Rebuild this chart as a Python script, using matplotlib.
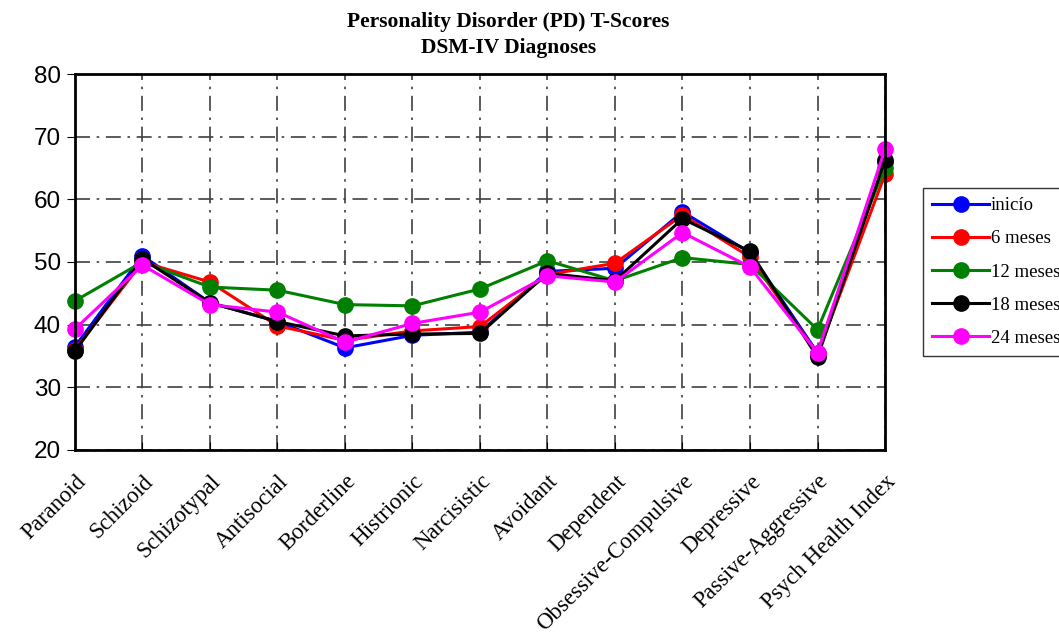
import matplotlib.pyplot as plt

# categories and scores
categories = ["Paranoid", "Schizoid", "Schizotypal", "Antisocial", "Borderline",
              "Histrionic", "Narcisistic", "Avoidant", "Dependent",
              "Obsessive-Compulsive", "Depressive", "Passive-Aggressive",
              "Psych Health Index"]

inicio   = [36.5, 51.0, 43.5, 40.5, 36.3, 38.3, 38.8, 48.5, 49.0, 58.0, 51.5, 35.5, 66.0]
meses6   = [36.0, 50.0, 46.8, 39.8, 37.5, 39.0, 39.7, 48.0, 49.8, 57.5, 50.8, 35.3, 64.0]
meses12  = [43.8, 50.0, 46.0, 45.5, 43.2, 43.0, 45.7, 50.2, 47.0, 50.7, 49.6, 39.2, 65.0]
meses18  = [35.8, 50.5, 43.5, 40.5, 38.2, 38.5, 38.6, 48.2, 47.0, 56.9, 51.7, 34.8, 66.3]
meses24  = [39.3, 49.5, 43.2, 42.0, 37.2, 40.2, 42.0, 47.8, 46.8, 54.7, 49.2, 35.5, 68.0]

series = [("inicío", inicio, "blue"),
          ("6 meses", meses6, "red"),
          ("12 meses", meses12, "green"),
          ("18 meses", meses18, "black"),
          ("24 meses", meses24, "magenta")]

fig = plt.figure(figsize=(10.59, 6.37), dpi=100)
ax = fig.add_axes([0.0708, 0.2936, 0.7649, 0.5902])

x = list(range(len(categories)))
for name, vals, col in series:
    ax.plot(x, vals, color=col, marker="o", markersize=11, linewidth=2.2,
            label=name, clip_on=False, zorder=3)

ax.set_xlim(0, len(categories) - 1)
ax.set_ylim(20, 80)
ax.set_yticks([20, 30, 40, 50, 60, 70, 80])
ax.set_xticks(x)
ax.set_xticklabels(categories, rotation=45, ha="right", va="top", rotation_mode="anchor",
                   family="Liberation Serif", fontsize=16.5)
for lab in ax.get_yticklabels():
    lab.set_family("Liberation Sans")
    lab.set_fontsize(17.5)

ax.grid(True, color="#404040", linestyle="-.", linewidth=1.2, dashes=(9, 4, 1.5, 4))
ax.set_axisbelow(True)
ax.tick_params(axis="x", direction="in", length=6, pad=15)
ax.tick_params(axis="y", direction="out", length=6, pad=4)
for s in ax.spines.values():
    s.set_linewidth(2)
    s.set_zorder(4)

fig.text(0.48, 0.966, "Personality Disorder (PD) T-Scores", ha="center", va="center",
         family="Liberation Serif", fontweight="bold", fontsize=15.5)
fig.text(0.48, 0.925, "DSM-IV Diagnoses", ha="center", va="center",
         family="Liberation Serif", fontweight="bold", fontsize=15.5)

leg = ax.legend(loc="upper left", bbox_to_anchor=(0.8716, 0.705),
                bbox_transform=fig.transFigure, frameon=True, fancybox=False,
                edgecolor="black", prop={"family": "Liberation Serif", "size": 13.5},
                handlelength=3.0, handletextpad=0.1, borderpad=0.5,
                labelspacing=0.85, borderaxespad=0)
leg.get_frame().set_linewidth(1)

fig.savefig("out.png", dpi=100)
